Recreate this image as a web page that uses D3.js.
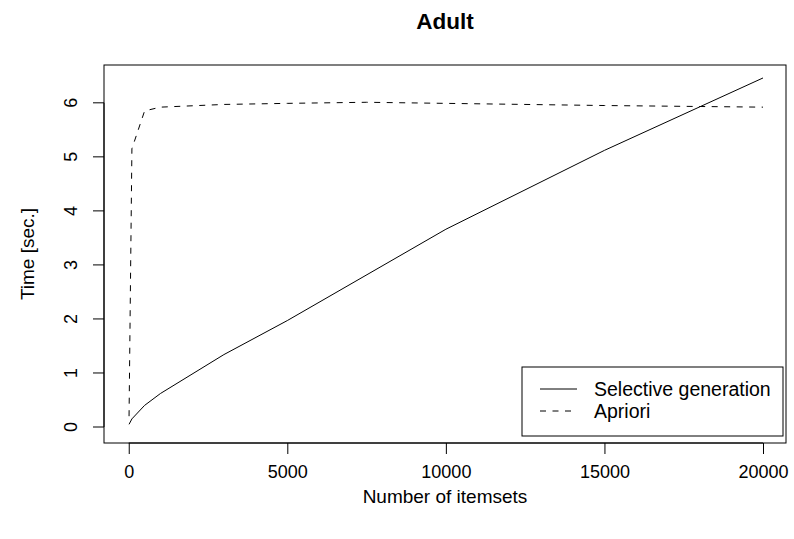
<!DOCTYPE html>
<html>
<head>
<meta charset="utf-8">
<script src="https://cdn.jsdelivr.net/npm/d3@7"></script>
<style>
  body { margin: 0; background: #fff; }
  text { font-family: "Liberation Sans", Arial, sans-serif; fill: #000; }
</style>
</head>
<body>
<div id="chart"></div>
<script>
// values
var selX = [10, 100, 500, 1000, 3000, 5000, 10000, 15000, 20000];
var selY = [0.05, 0.15, 0.40, 0.62, 1.34, 1.97, 3.66, 5.12, 6.46];
var aprX = [10, 100, 500, 1000, 3000, 5000, 7500, 10000, 15000, 20000];
var aprY = [0.20, 5.15, 5.85, 5.92, 5.97, 5.99, 6.01, 5.99, 5.95, 5.92];
var xTicks = [0, 5000, 10000, 15000, 20000];
var yTicks = [0, 1, 2, 3, 4, 5, 6];
var seriesNames = ["Selective generation", "Apriori"];

var width = 794, height = 539;
var box = { left: 104, right: 786, top: 65, bottom: 443 };
var fs = "18px";
var labelFs = "19px";
var dash = "6,6.5";

var svg = d3.select("#chart").append("svg")
    .attr("width", width)
    .attr("height", height);

var x = d3.scaleLinear().domain([-780, 20725]).range([box.left, box.right]);
var y = d3.scaleLinear().domain([-0.296, 6.70]).range([box.bottom, box.top]);

// plot frame
svg.append("rect")
    .attr("x", box.left).attr("y", box.top)
    .attr("width", box.right - box.left).attr("height", box.bottom - box.top)
    .attr("fill", "none").attr("stroke", "#000").attr("stroke-width", 1);

// x axis (R style, detached from the box)
var xAxis = svg.append("g")
    .attr("transform", "translate(0," + box.bottom + ")")
    .call(d3.axisBottom(x).tickValues(xTicks).tickSize(11).tickPadding(11).tickFormat(d3.format("d")));
xAxis.select(".domain").attr("d", "M" + x(0) + ",0H" + x(20000));
xAxis.selectAll("text").style("font-size", fs).style("font-family", "Liberation Sans, Arial, sans-serif");

// y axis with rotated labels
var yAxis = svg.append("g")
    .attr("transform", "translate(" + box.left + ",0)")
    .call(d3.axisLeft(y).tickValues(yTicks).tickSize(11).tickFormat(d3.format("d")));
yAxis.select(".domain").attr("d", "M0," + y(0) + "V" + y(6));
yAxis.selectAll(".tick").attr("transform", null);
yAxis.selectAll(".tick line").attr("transform", function(d) { return "translate(0," + y(d) + ")"; });
yAxis.selectAll("text")
    .style("font-size", fs)
    .style("font-family", "Liberation Sans, Arial, sans-serif")
    .attr("text-anchor", "middle")
    .attr("dy", null)
    .attr("x", 0)
    .attr("y", 0)
    .attr("transform", function(d) { return "translate(-27," + y(d) + ") rotate(-90)"; });

// lines
var line = d3.line()
    .x(function(d) { return x(d[0]); })
    .y(function(d) { return y(d[1]); });

svg.append("path")
    .datum(d3.zip(selX, selY))
    .attr("d", line)
    .attr("fill", "none").attr("stroke", "#000").attr("stroke-width", 1);

svg.append("path")
    .datum(d3.zip(aprX, aprY))
    .attr("d", line)
    .attr("fill", "none").attr("stroke", "#000").attr("stroke-width", 1)
    .attr("stroke-dasharray", dash);

// titles
svg.append("text")
    .attr("x", (box.left + box.right) / 2).attr("y", 29)
    .attr("text-anchor", "middle")
    .style("font-size", "22.5px").style("font-weight", "bold")
    .text("Adult");

svg.append("text")
    .attr("x", (box.left + box.right) / 2).attr("y", 503)
    .attr("text-anchor", "middle")
    .style("font-size", labelFs)
    .text("Number of itemsets");

svg.append("text")
    .attr("transform", "translate(34," + ((box.top + box.bottom) / 2) + ") rotate(-90)")
    .attr("text-anchor", "middle")
    .style("font-size", labelFs)
    .text("Time [sec.]");

// legend
var legend = svg.append("g");
legend.append("rect")
    .attr("x", 522).attr("y", 367).attr("width", 261).attr("height", 69)
    .attr("fill", "#fff").attr("stroke", "#000").attr("stroke-width", 1);
seriesNames.forEach(function(name, i) {
    var ly = 389 + i * 22;
    legend.append("line")
        .attr("x1", 540).attr("x2", 577).attr("y1", ly).attr("y2", ly)
        .attr("stroke", "#000").attr("stroke-width", 1)
        .attr("stroke-dasharray", i === 1 ? dash : null);
    legend.append("text")
        .attr("x", 594).attr("y", ly + 6.5)
        .style("font-size", "19.5px")
        .text(name);
});
</script>
</body>
</html>
